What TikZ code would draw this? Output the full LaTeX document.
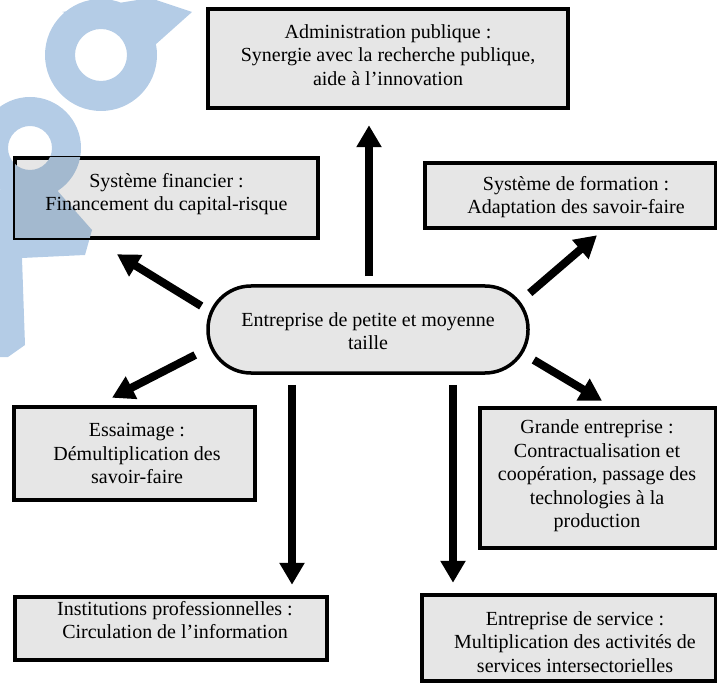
\documentclass[tikz,border=0pt]{standalone}
\usepackage{fontspec}
\setmainfont{Liberation Serif}
\usetikzlibrary{arrows.meta,calc}
\definecolor{boxgray}{RGB}{230,230,230}
\definecolor{wmblue}{RGB}{180,204,230}
\definecolor{wmdark}{RGB}{163,185,207}

% the two-ring emblem, filled with the colour given as argument
\newcommand\emblemfill[1]{%
  \fill[#1, nonzero rule]
    (157,55) arc[start angle=0, end angle=360, radius=56] -- cycle
    (127,55) arc[start angle=0, end angle=-360, radius=26] -- cycle
    (62,12) -- (150,-2) -- (192,12) -- (155,45) -- (128,28) -- cycle;
  \fill[#1, nonzero rule]
    (81,148) arc[start angle=0, end angle=360, radius=51] -- cycle
    (52,148) arc[start angle=0, end angle=-360, radius=22] -- cycle
    (-2,190) -- (55,188) -- (92,230) -- (85,255) -- (22,258)
    -- (25,345) -- (8,357) -- (-2,357) -- cycle;
}

\begin{document}
\begin{tikzpicture}[x=1pt,y=-1pt,
  box/.style={draw=black, line width=4.5pt, fill=boxgray, inner sep=0pt},
  pmebox/.style={draw=black, line width=3.5pt, fill=boxgray, inner sep=0pt,
    rounded corners=43pt},
  label/.style={align=center, inner sep=0pt,
    font=\fontsize{20}{23.5}\selectfont},
  arr/.style={line width=8pt, -{Triangle[length=22pt,width=24pt]}}]

\useasboundingbox (0,0) rectangle (717,684);

% emblem behind everything
\emblemfill{wmblue}

% central actor
\node[pmebox, minimum width=320pt, minimum height=87pt] (pme) at (368,329.5) {};

% partner boxes
\node[box, minimum width=360pt, minimum height=99pt]  (admin)  at (388,58.5) {};
\node[box, minimum width=303pt, minimum height=80pt]  (fin)    at (166.5,198) {};
\node[box, minimum width=291pt, minimum height=65pt]  (form)   at (570.5,195.5) {};
\node[box, minimum width=241pt, minimum height=93pt]  (ess)    at (134.5,453.5) {};
\node[box, minimum width=236pt, minimum height=140pt] (grande) at (598,478) {};
\node[box, minimum width=312pt, minimum height=63pt]  (inst)   at (171,628.5) {};
\node[box, minimum width=294pt, minimum height=86pt]  (serv)   at (569,638) {};

% emblem seen through the grey of the financial box
\begin{scope}
  \clip ($(fin.south west)+(2.25,-2.25)$) rectangle ($(fin.north east)+(-2.25,2.25)$);
  \emblemfill{wmdark}
\end{scope}

% texts
\node[label] (pmetext) at (368,331) {Entreprise de petite et moyenne\\taille};
\node[label] (admintext) at (388,55)
  {Administration publique :\\Synergie avec la recherche publique,\\aide à l’innovation};
\node[label] (fintext) at (166.5,194)
  {Système financier :\\Financement du capital-risque};
\node[label] (formtext) at (576,197)
  {Système de formation :\\Adaptation des savoir-faire};
\node[label] (esstext) at (137,453.5)
  {Essaimage :\\Démultiplication des\\savoir-faire};
\node[label] (grandetext) at (597,476)
  {Grande entreprise :\\Contractualisation et\\coopération, passage des\\technologies à la\\production};
\node[label] (insttext) at (175,620)
  {Institutions professionnelles :\\Circulation de l’information};
\node[label] (servtext) at (575,642)
  {Entreprise de service :\\Multiplication des activités de\\services intersectorielles};

% links from the SME to its partners
\draw[arr] ($(pme.north)+(1,-8)$)   -- ($(admin.south)+(-19,15)$);
\draw[arr] ($(pme.west)+(-5,-23.5)$) -- ($(fin.south)+(-49.5,14)$);
\draw[arr] ($(pme.east)+(0,-36.5)$)  -- ($(form.south)+(26.5,5)$);
\draw[arr] ($(pme.west)+(-11,25.5)$) -- ($(ess.north)+(-22.5,-7)$);
\draw[arr] ($(pme.east)+(4,30.5)$)   -- ($(grande.north)+(4,-5)$);
\draw[arr] ($(pme.south)+(-76,10)$)  -- ($(inst.north)+(121,-10)$);
\draw[arr] ($(pme.south)+(85,10)$)   -- ($(serv.north)+(-116,-10)$);
\end{tikzpicture}
\end{document}
